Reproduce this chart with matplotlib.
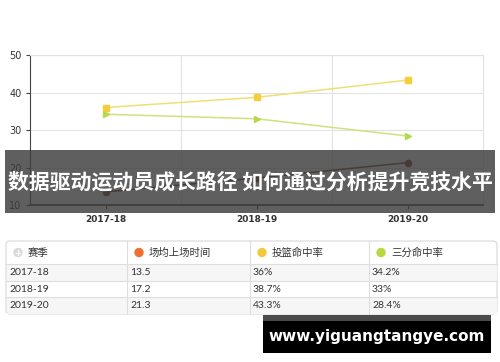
import matplotlib.pyplot as plt
from matplotlib.patches import Rectangle, Circle, FancyBboxPatch
import numpy as np

plt.rcParams['font.family'] = ['Noto Sans CJK SC', 'DejaVu Sans']

# Data
seasons = ['2017-18', '2018-19', '2019-20']
minutes = [13.5, 17.2, 21.3]
fg_pct = [36, 38.7, 43.3]
three_pct = [34.2, 33, 28.4]
yticks = [10, 20, 30, 40, 50]

headers = ['赛季', '场均上场时间', '投篮命中率', '三分命中率']
rows = [
    ['2017-18', '13.5', '36%', '34.2%'],
    ['2018-19', '17.2', '38.7%', '33%'],
    ['2019-20', '21.3', '43.3%', '28.4%'],
]
title = '数据驱动运动员成长路径 如何通过分析提升竞技水平'
watermark = 'www.yiguangtangye.com'

# Colors
MIN_COLOR = '#7a3a1c'
FG_LINE = '#f3de72'
FG_MARK = '#f4cd3c'
TP_LINE = '#cfe27a'
TP_MARK = '#b7d74c'
GRID = '#e2e2e2'
TEXT = '#333333'

W, H = 500, 362
fig = plt.figure(figsize=(W / 100, H / 100), dpi=100)

def px_axes(x0, y0, x1, y1):
    return fig.add_axes([x0 / W, 1 - y1 / H, (x1 - x0) / W, (y1 - y0) / H])

# Line chart
ax = px_axes(30, 55, 483, 205)
x = np.arange(len(seasons))
ax.plot(x, fg_pct, color=FG_LINE, lw=1.1, zorder=3)
ax.plot(x, fg_pct, 's', color=FG_MARK, ms=5, zorder=4)
ax.plot(x, three_pct, color=TP_LINE, lw=1.1, zorder=3)
ax.plot(x, three_pct, '>', color=TP_MARK, ms=5, zorder=4)
ax.plot(x, minutes, color=MIN_COLOR, lw=1.1, zorder=3)
ax.plot(x, minutes, 'o', color=MIN_COLOR, ms=4.5, zorder=4)
ax.set_xlim(-0.5, 2.5)
ax.set_ylim(10, 50)
ax.set_yticks(yticks)
ax.set_yticklabels([str(v) for v in yticks], fontsize=7, color=TEXT, family='DejaVu Sans')
ax.set_xticks(x)
ax.set_xticklabels(seasons, fontsize=6.5, color=TEXT, family='DejaVu Sans', fontweight='bold')
ax.set_xticks([0.5, 1.5], minor=True)
ax.grid(axis='y', color=GRID, lw=0.8)
ax.grid(axis='x', which='minor', color=GRID, lw=0.8)
ax.tick_params(axis='x', which='minor', length=0)
ax.tick_params(axis='x', length=3, color='#444444', pad=4)
ax.tick_params(axis='y', length=3, color='#444444', pad=3)
for s in ['top', 'right']:
    ax.spines[s].set_color(GRID)
    ax.spines[s].set_linewidth(0.8)
ax.spines['left'].set_color('#444444')
ax.spines['bottom'].set_color('#444444')
ax.spines['bottom'].set_linewidth(1.3)

# Overlay layer in pixel coordinates
ov = fig.add_axes([0, 0, 1, 1])
ov.set_xlim(0, W)
ov.set_ylim(H, 0)
ov.axis('off')
ov.patch.set_alpha(0)

# Title band
ov.add_patch(Rectangle((5, 150), 490, 63, color='#3c3c3c', alpha=0.82, lw=0, zorder=5))
ov.text(250, 182, title, color='white', fontsize=15, fontweight='bold',
        ha='center', va='center', zorder=6)

# Table
tx0, tx1 = 6, 497
col_edges = [6, 127, 250, 369, 497]
ty = [241, 264, 281, 297, 314]
ov.add_patch(FancyBboxPatch((tx0, ty[0]), tx1 - tx0, ty[-1] - ty[0],
                            boxstyle='round,pad=0,rounding_size=4',
                            fc='white', ec='#d8d8d8', lw=0.8, zorder=1))
for i in range(len(rows)):
    if i % 2 == 0:
        ov.add_patch(Rectangle((tx0 + 0.5, ty[i + 1]), tx1 - tx0 - 1, ty[i + 2] - ty[i + 1],
                               color='#f6f6f6', lw=0, zorder=1.5))
for yy in ty[1:-1]:
    ov.plot([tx0, tx1], [yy, yy], color='#dedede', lw=0.8, zorder=2)
for xx in col_edges[1:-1]:
    ov.plot([xx, xx], [ty[0], ty[-1]], color='#dedede', lw=0.8, zorder=2)

icon_colors = ['#d9d9d9', '#ee7030', '#f4c83c', '#b5d843']
hy = (ty[0] + ty[1]) / 2
for j, h in enumerate(headers):
    cx = col_edges[j] + 12
    ov.add_patch(Circle((cx, hy), 4, color=icon_colors[j], zorder=3))
    if j == 0:
        ov.plot([cx - 2.2, cx + 2.2], [hy, hy], color='white', lw=0.9, zorder=4)
        ov.plot([cx, cx], [hy - 2.2, hy + 2.2], color='white', lw=0.9, zorder=4)
    ov.text(col_edges[j] + 22, hy, h, fontsize=7.5, color=TEXT, ha='left', va='center', zorder=4)
for i, r in enumerate(rows):
    cy = (ty[i + 1] + ty[i + 2]) / 2
    for j, v in enumerate(r):
        ov.text(col_edges[j] + 3, cy, v, fontsize=7.5, color=TEXT, ha='left', va='center',
                family=['Lato', 'DejaVu Sans'], zorder=4)

# Watermark
ov.add_patch(Rectangle((263, 315), 228, 6, color='#4a4a4a', lw=0, zorder=5))
ov.add_patch(Rectangle((263, 321), 228, 32, color='black', lw=0, zorder=5))
ov.text(377, 336, watermark, color='white', fontsize=11, fontweight='bold',
        family=['DejaVu Sans'], ha='center', va='center', zorder=6)

fig.savefig('out.png', dpi=100)
